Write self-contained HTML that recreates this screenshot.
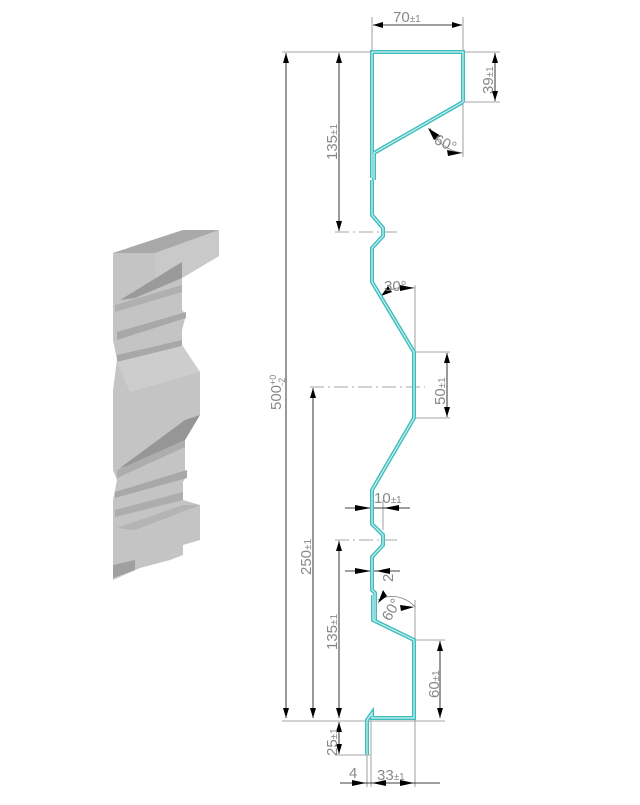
<!DOCTYPE html>
<html><head><meta charset="utf-8"><style>
html,body{margin:0;padding:0;background:#fff;}
svg{display:block;}
text{font-family:"Liberation Sans",sans-serif;fill:#888;font-size:15px;}
</style></head><body>
<svg width="640" height="805" viewBox="0 0 640 805" xmlns="http://www.w3.org/2000/svg">
<defs>
<marker id="a" viewBox="0 0 10 6" refX="10" refY="3" markerWidth="10" markerHeight="6" orient="auto-start-reverse" markerUnits="userSpaceOnUse"><path d="M0,0 L10,3 L0,6z" fill="#000"/></marker>
</defs>
<g stroke="none">
<polygon points="113,253 183,230 219,230 219,256 182,278 182,310 186,315 182,330 182,345 200,372 200,415 185,440 185,470 187,475 183,482 183,500 200,505 200,540 183,545 183,555 170,560 140,568 113,580 113,500 117,480 113,470 113,440 113,420 113,390 117,360 113,340 113,300" fill="#c4c4c4"/>
<polygon points="113,253 183,230 219,230 155,253" fill="#a9a9a9"/>
<polygon points="155,253 219,230 219,256 182,278 120,300 155,280" fill="#c9c9c9"/>
<polygon points="120,300 182,262 182,278 135,298" fill="#9a9a9a"/>
<polygon points="115,305 182,285 182,292 115,312" fill="#b0b0b0"/>
<polygon points="117,332 186,312 186,318 117,340" fill="#a8a8a8"/>
<polygon points="117,355 182,340 182,346 117,362" fill="#a8a8a8"/>
<polygon points="117,362 182,346 200,372 130,392" fill="#cdcdcd"/>
<polygon points="120,468 185,420 200,415 185,440 140,462" fill="#969696"/>
<polygon points="117,470 185,440 185,447 117,478" fill="#adadad"/>
<polygon points="115,492 187,470 187,478 115,498" fill="#a8a8a8"/>
<polygon points="115,510 183,492 183,500 115,517" fill="#adadad"/>
<polygon points="117,528 183,505 200,505 135,530" fill="#b4b4b4"/>
<polygon points="113,565 135,560 135,570 113,578" fill="#a0a0a0"/>
</g>
<g stroke="#888" stroke-width="0.8" fill="none">
<line x1="372" y1="17" x2="372" y2="52"/><line x1="463" y1="17" x2="463" y2="157"/>
<line x1="282" y1="52" x2="500" y2="52"/>
<line x1="463" y1="102" x2="500" y2="102"/>
<line x1="335" y1="232" x2="400" y2="232" stroke-dasharray="14,4,2,4"/>
<line x1="310" y1="387" x2="425" y2="387" stroke-dasharray="14,4,2,4"/>
<line x1="335" y1="540" x2="400" y2="540" stroke-dasharray="14,4,2,4"/>
<line x1="415" y1="285" x2="415" y2="352"/>
<line x1="415" y1="352" x2="450" y2="352"/><line x1="415" y1="418" x2="450" y2="418"/>
<line x1="383" y1="500" x2="383" y2="530"/>
<line x1="415" y1="600" x2="415" y2="787"/>
<line x1="415" y1="640" x2="445" y2="640"/>
<line x1="282" y1="721" x2="445" y2="721"/>
<line x1="335" y1="755" x2="370" y2="755"/>
<line x1="367" y1="755" x2="367" y2="787"/><line x1="371" y1="721" x2="371" y2="787"/>
<path d="M430,128 A40,40 0 0 0 463,153"/>
<path d="M378,600 A30,30 0 0 1 415,607"/>
<path d="M385,292 A50,50 0 0 1 415,288"/>
</g>
<g stroke="#000" stroke-width="0.8" fill="none" marker-start="url(#a)" marker-end="url(#a)">
<line x1="373" y1="25" x2="462" y2="25"/>
<line x1="495" y1="53" x2="495" y2="101"/>
<line x1="286" y1="53" x2="286" y2="718"/>
<line x1="339" y1="53" x2="339" y2="231"/>
<line x1="313" y1="388" x2="313" y2="718"/>
<line x1="447" y1="353" x2="447" y2="417"/>
<line x1="339" y1="541" x2="339" y2="718"/>
<line x1="440" y1="641" x2="440" y2="718"/>
<line x1="339" y1="722" x2="339" y2="754"/>
</g>
<g stroke="#000" stroke-width="0.8" fill="none">
<line x1="345" y1="508" x2="410" y2="508"/><line x1="345" y1="571" x2="400" y2="571"/>
<line x1="340" y1="783" x2="440" y2="783"/>
<path d="M355,505 L371,508 L355,511z M399,505 L384,508 L399,511z M355,568 L371,571 L355,574z M390,568 L376,571 L390,574z M352,780 L366,783 L352,786z M386,780 L372,783 L386,786z M400,780 L414,783 L400,786z" fill="#000" stroke="none"/>
<path d="M428,128 L441,136 L434,140z M462,153 L447,150 L448,156z M381,296 L388,286 L392,292z M414,288 L400,285 L400,291z M378,603 L383,590 L387,596z M414,607 L400,605 L401,611z" fill="#000" stroke="none"/>
</g>
<g fill="none" stroke-linejoin="miter">
<path d="M463,102 L463,52 L372,52 L372,178 M463,102 L374,153 L374,180 M372,180 L372,215 L383,228 L383,236 L372,248 L372,282 L414,352 L414,418 L372,490 L372,524 L383,535 L383,545 L372,557 L372,590 L375,593 L375,620 M373,595 L373,620 L414,640 L414,718 L372,718 L372,713 L367,720 L367,755" stroke="#40bcbc" stroke-width="4"/>
<path d="M463,102 L463,52 L372,52 L372,178 M463,102 L374,153 L374,180 M372,180 L372,215 L383,228 L383,236 L372,248 L372,282 L414,352 L414,418 L372,490 L372,524 L383,535 L383,545 L372,557 L372,590 L375,593 L375,620 M373,595 L373,620 L414,640 L414,718 L372,718 L372,713 L367,720 L367,755" stroke="#c8f2f2" stroke-width="1.2"/>
</g>
<text x="393" y="22">70<tspan font-size="10">±1</tspan></text>
<text transform="translate(493,94) rotate(-90)">39<tspan font-size="10">±1</tspan></text>
<text transform="translate(433,143) rotate(25)">60°</text>
<text transform="translate(337,160) rotate(-90)">135<tspan font-size="10">±1</tspan></text>
<text transform="translate(281,410) rotate(-90)">500<tspan font-size="9" dy="-5">+0</tspan><tspan font-size="9" dx="-11" dy="9">-2</tspan></text>
<text x="384" y="291">30°</text>
<text transform="translate(445,405) rotate(-90)">50<tspan font-size="10">±1</tspan></text>
<text x="374" y="503">10<tspan font-size="10">±1</tspan></text>
<text transform="translate(311,575) rotate(-90)">250<tspan font-size="10">±1</tspan></text>
<text transform="translate(393,582) rotate(-90)">2</text>
<text transform="translate(390,622) rotate(-60)">60°</text>
<text transform="translate(337,650) rotate(-90)">135<tspan font-size="10">±1</tspan></text>
<text transform="translate(439,698) rotate(-90)">60<tspan font-size="10">±1</tspan></text>
<text transform="translate(337,756) rotate(-90)">25<tspan font-size="10">±1</tspan></text>
<text x="349" y="778">4</text>
<text x="377" y="780">33<tspan font-size="10">±1</tspan></text>
</svg>
</body></html>
